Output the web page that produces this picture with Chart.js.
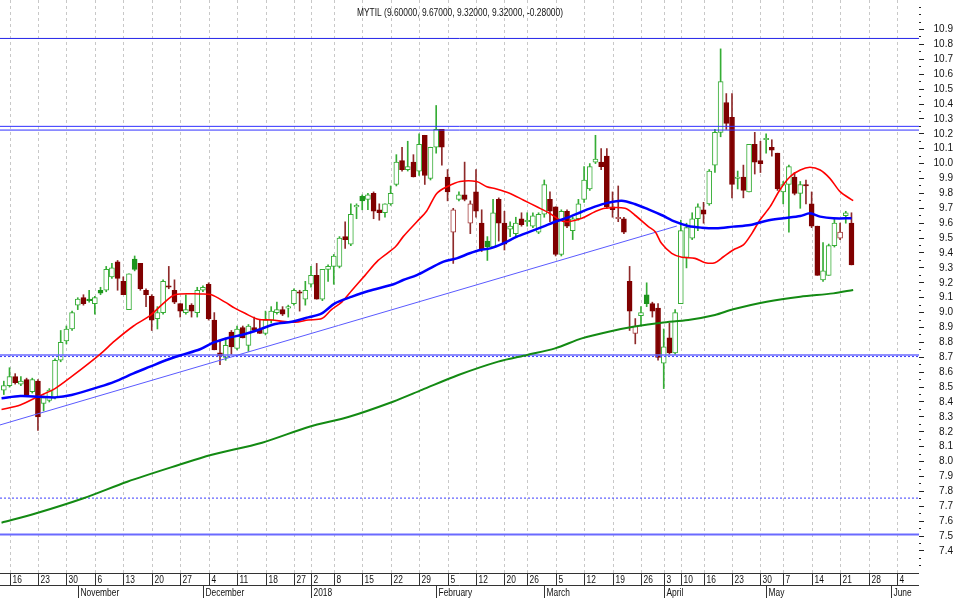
<!DOCTYPE html>
<html>
<head>
<meta charset="utf-8">
<script src="https://cdn.jsdelivr.net/npm/chart.js@4.4.0/dist/chart.umd.min.js"></script>
<style>
  html, body { margin: 0; padding: 0; background: #fff; }
</style>
</head>
<body>
<canvas id="myChart" width="953" height="600"></canvas>
<script>
// trading day index of the first candle (index 0 = 16 Oct 2017)
const firstDay = -1;

const openP = [
  8.48, 8.51, 8.57, 8.52, 8.55, 8.47, 8.54, 8.39, 8.41, 8.43,
  8.68, 8.81, 8.89, 9.05, 9.10, 9.09, 9.06, 9.15, 9.15, 9.24,
  9.34, 9.21, 9.02, 9.36, 9.33, 9.15, 9.11, 8.96, 9.00, 9.18,
  9.15, 9.06, 9.00, 9.05, 9.00, 9.15, 9.19, 8.95, 8.73, 8.70,
  8.87, 8.76, 8.90, 8.78, 8.90, 8.89, 8.86, 8.95, 9.00, 9.02,
  9.03, 9.06, 9.14, 9.09, 9.19, 9.25, 9.09, 9.29, 9.31, 9.31,
  9.51, 9.46, 9.71, 9.78, 9.76, 9.80, 9.69, 9.67, 9.73, 9.86,
  10.02, 9.96, 10.01, 9.95, 10.19, 9.90, 10.11, 10.23, 9.91, 9.54,
  9.76, 9.79, 9.60, 9.81, 9.60, 9.48, 9.44, 9.76, 9.60, 9.56,
  9.53, 9.63, 9.61, 9.58, 9.54, 9.66, 9.76, 9.71, 9.39, 9.68,
  9.55, 9.63, 9.76, 9.83, 10.01, 10.01, 10.05, 9.71, 9.63, 9.63,
  9.21, 8.86, 8.98, 9.12, 9.06, 9.03, 8.66, 8.83, 8.73, 9.06,
  9.37, 9.50, 9.63, 9.69, 9.73, 9.99, 10.21, 10.41, 10.31, 9.90,
  9.91, 9.81, 10.13, 10.02, 10.16, 10.11, 10.07, 9.81, 9.86, 9.91,
  9.80, 9.86, 9.73, 9.58, 9.22, 9.25, 9.45, 9.50, 9.65, 9.60
];
const highP = [
  8.54, 8.63, 8.59, 8.57, 8.56, 8.56, 8.55, 8.44, 8.49, 8.69,
  8.88, 8.91, 9.01, 9.10, 9.12, 9.15, 9.11, 9.17, 9.31, 9.33,
  9.35, 9.24, 9.26, 9.38, 9.33, 9.16, 9.12, 9.04, 9.22, 9.31,
  9.22, 9.06, 9.12, 9.06, 9.17, 9.18, 9.20, 9.00, 8.81, 8.83,
  8.88, 8.91, 8.91, 8.92, 8.97, 8.95, 9.01, 9.04, 9.07, 9.04,
  9.05, 9.16, 9.15, 9.21, 9.31, 9.33, 9.29, 9.32, 9.39, 9.51,
  9.61, 9.73, 9.73, 9.79, 9.80, 9.81, 9.73, 9.73, 9.85, 10.06,
  10.11, 10.15, 10.06, 10.20, 10.19, 10.11, 10.39, 10.23, 9.96, 9.70,
  9.81, 10.01, 9.75, 9.96, 9.69, 9.51, 9.76, 9.77, 9.68, 9.61,
  9.64, 9.67, 9.67, 9.67, 9.67, 9.89, 9.81, 9.71, 9.69, 9.69,
  9.64, 9.76, 9.98, 10.00, 10.19, 10.10, 10.10, 9.81, 9.85, 9.64,
  9.31, 8.96, 9.04, 9.20, 9.07, 9.06, 8.89, 8.93, 9.02, 9.62,
  9.60, 9.67, 9.73, 9.74, 9.96, 10.23, 10.77, 10.47, 10.47, 9.95,
  9.99, 10.13, 10.21, 10.15, 10.20, 10.16, 10.07, 9.88, 9.99, 9.94,
  9.88, 9.89, 9.81, 9.58, 9.47, 9.46, 9.63, 9.60, 9.68, 9.67
];
const lowP = [
  8.45, 8.50, 8.52, 8.51, 8.44, 8.46, 8.21, 8.34, 8.40, 8.42,
  8.67, 8.79, 8.88, 9.02, 9.05, 9.07, 8.99, 9.12, 9.14, 9.23,
  9.15, 9.12, 9.02, 9.28, 9.15, 9.04, 8.88, 8.89, 8.99, 9.16,
  9.06, 8.97, 8.99, 8.97, 8.97, 9.14, 8.95, 8.75, 8.65, 8.68,
  8.72, 8.75, 8.83, 8.74, 8.87, 8.86, 8.85, 8.93, 8.99, 8.98,
  8.97, 9.05, 9.01, 9.05, 9.17, 9.09, 9.08, 9.21, 9.19, 9.30,
  9.43, 9.45, 9.63, 9.69, 9.69, 9.63, 9.62, 9.64, 9.72, 9.85,
  9.95, 9.95, 9.91, 9.92, 9.86, 9.89, 10.07, 9.99, 9.75, 9.33,
  9.75, 9.75, 9.53, 9.64, 9.41, 9.35, 9.44, 9.48, 9.42, 9.51,
  9.51, 9.58, 9.58, 9.57, 9.53, 9.64, 9.61, 9.38, 9.38, 9.57,
  9.49, 9.62, 9.74, 9.82, 10.00, 9.96, 9.70, 9.64, 9.61, 9.53,
  8.88, 8.79, 8.91, 9.04, 8.97, 8.68, 8.49, 8.72, 8.72, 9.06,
  9.30, 9.49, 9.55, 9.60, 9.72, 9.94, 10.18, 10.23, 9.77, 9.83,
  9.77, 9.81, 9.93, 9.94, 10.07, 10.05, 9.82, 9.73, 9.54, 9.79,
  9.70, 9.73, 9.57, 9.25, 9.21, 9.25, 9.44, 9.49, 9.60, 9.32
];
const closeP = [
  8.51, 8.57, 8.53, 8.54, 8.45, 8.55, 8.30, 8.43, 8.48, 8.68,
  8.80, 8.89, 9.00, 9.09, 9.06, 9.08, 9.10, 9.13, 9.29, 9.30,
  9.23, 9.12, 9.26, 9.29, 9.16, 9.12, 8.95, 9.00, 9.21, 9.17,
  9.07, 9.01, 9.02, 9.01, 9.15, 9.17, 8.96, 8.75, 8.71, 8.78,
  8.77, 8.89, 8.83, 8.91, 8.88, 8.86, 8.95, 9.01, 9.02, 8.99,
  9.04, 9.15, 9.13, 9.15, 9.25, 9.09, 9.29, 9.31, 9.38, 9.50,
  9.49, 9.66, 9.72, 9.75, 9.79, 9.68, 9.67, 9.73, 9.80, 10.01,
  9.96, 9.98, 9.91, 10.13, 9.92, 10.11, 10.23, 10.11, 9.81, 9.69,
  9.79, 9.76, 9.73, 9.68, 9.42, 9.44, 9.67, 9.60, 9.46, 9.58,
  9.60, 9.59, 9.62, 9.65, 9.66, 9.86, 9.68, 9.39, 9.68, 9.58,
  9.63, 9.73, 9.89, 9.98, 10.03, 9.98, 9.71, 9.69, 9.64, 9.54,
  9.01, 8.91, 9.00, 9.06, 9.01, 8.70, 8.77, 8.73, 9.00, 9.55,
  9.57, 9.63, 9.71, 9.66, 9.95, 10.21, 10.55, 10.27, 9.86, 9.91,
  9.82, 10.13, 10.01, 10.00, 10.17, 10.09, 9.83, 9.86, 9.98, 9.80,
  9.86, 9.85, 9.58, 9.25, 9.28, 9.45, 9.60, 9.54, 9.67, 9.32
];

// moving averages (x = trading day index)
const redMaX = [-1.4, 1.9, 5.2, 8.0, 10.9, 15.9, 18.5, 21.8, 24.7, 27.0, 29.1, 33.5, 35.5, 37.9, 39.6,
  41.4, 43.7, 46.1, 48.4, 50.2, 52.5, 54.9, 56.6, 58.4, 60.2, 62.5, 64.8, 67.8, 69.2, 71.6,
  73.3, 75.1, 76.9, 79.2, 82.1, 83.9, 85.6, 88.0, 90.3, 92.7, 95.0, 96.8, 98.2, 100.6, 102.9,
  104.7, 108.2, 109.9, 112.3, 113.5, 114.6, 116.4, 118.2, 120.5, 122.3, 124.0, 125.5, 127.2, 129.0, 130.5,
  131.9, 133.7, 135.4, 137.2, 139.0, 140.7, 142.5, 144.2, 146.0, 148.3];
const redMaY = [8.35, 8.38, 8.44, 8.49, 8.57, 8.72, 8.81, 8.91, 8.98, 9.06, 9.12, 9.125, 9.12, 9.07, 9.03,
  8.995, 8.955, 8.95, 8.94, 8.935, 8.95, 8.96, 9.02, 9.07, 9.15, 9.25, 9.35, 9.44, 9.51, 9.61,
  9.68, 9.80, 9.845, 9.88, 9.88, 9.845, 9.83, 9.80, 9.756, 9.71, 9.665, 9.62, 9.61, 9.633, 9.677,
  9.70, 9.70, 9.655, 9.577, 9.543, 9.465, 9.398, 9.371, 9.364, 9.335, 9.335, 9.375, 9.42, 9.454, 9.532,
  9.621, 9.711, 9.823, 9.912, 9.957, 9.975, 9.957, 9.901, 9.812, 9.751];

const blueMaX = [-1.4, 1.9, 5.2, 8.0, 10.9, 15.9, 18.5, 21.8, 24.7, 27.6, 30.3, 33.5, 35.8, 38.4, 40.8,
  43.7, 46.7, 49.6, 52.5, 54.9, 57.2, 60.2, 63.1, 67.5, 69.2, 71.6, 73.9, 76.3, 78.6, 80.9,
  82.7, 84.5, 86.8, 89.2, 91.5, 93.8, 96.2, 98.2, 100.6, 102.9, 105.3, 107.6, 109.9, 112.3, 114.6,
  117.0, 119.3, 121.7, 124.2, 127.2, 130.2, 133.1, 136.0, 139.0, 140.7, 142.5, 144.8, 148.0];
const blueMaY = [8.425, 8.44, 8.436, 8.431, 8.447, 8.503, 8.537, 8.592, 8.637, 8.682, 8.716, 8.754, 8.798, 8.83, 8.85,
  8.883, 8.924, 8.939, 8.968, 8.995, 9.062, 9.107, 9.145, 9.19, 9.219, 9.252, 9.297, 9.342, 9.364, 9.398,
  9.42, 9.431, 9.465, 9.51, 9.543, 9.577, 9.613, 9.639, 9.677, 9.711, 9.738, 9.751, 9.729, 9.693, 9.655,
  9.61, 9.581, 9.57, 9.566, 9.577, 9.588, 9.617, 9.633, 9.648, 9.666, 9.644, 9.633, 9.633];

const greenMaX = [-1.4, 4.7, 13.0, 20.7, 29.7, 35.4, 44.4, 52.7, 59.7, 67.4, 72.5, 78.9, 85.9, 91.0, 95.9,
  100.6, 105.3, 109.9, 114.6, 119.3, 124.0, 127.2, 133.1, 139.0, 144.8, 148.3];
const greenMaY = [7.59, 7.653, 7.754, 7.865, 7.977, 8.044, 8.127, 8.234, 8.301, 8.402, 8.481, 8.581, 8.671, 8.716, 8.76,
  8.827, 8.872, 8.906, 8.932, 8.95, 8.984, 9.022, 9.073, 9.107, 9.129, 9.152];

// hand drawn lines
const trendX = [-1.67, 117.3];
const trendY = [8.246, 9.581];
const levels = [10.84, 10.25, 10.225, 8.715, 7.51];
const dottedLevels = [8.705, 7.755];

// x axis labels
const weekTickIdx = [0, 5, 10, 15, 20, 25, 30, 35, 40, 45, 50, 53, 57, 62, 67, 72, 77, 82, 87, 91,
  96, 101, 106, 111, 115, 118, 122, 127, 132, 136, 141, 146, 151, 156];
const weekTickLbl = ['16', '23', '30', '6', '13', '20', '27', '4', '11', '18', '27', '2', '8', '15', '22', '29', '5', '12', '20', '26',
  '5', '12', '19', '26', '3', '10', '16', '23', '30', '7', '14', '21', '28', '4'];
const monthIdx = [12, 34, 53, 75, 94, 115, 133, 155];
const monthLbl = ['November', 'December', '2018', 'February', 'March', 'April', 'May', 'June'];

const X_MIN = -1.67, X_MAX = 159.87;
const FONT = "'Liberation Sans', Arial, sans-serif";
const GREEN = '#35ad35';
const GREEN_FILL = '#1d951d';
const RED = '#800000';
const RED_WICK = '#8e2a2a';
const levelColor = ['#2424e8', '#3030ff', '#3030ff', '#6a6aff', '#6a6aff'];
const levelWidth = [1, 1, 1, 1.5, 2];

function isUp(k) {
  return k === 0 || closeP[k] >= closeP[k - 1];
}

function xy(xs, ys) {
  return xs.map((x, k) => ({ x: x, y: ys[k] }));
}

var wickData = [], wickColor = [], bodyData = [], bodyFill = [], bodyBorder = [];
for (var k = 0; k < closeP.length; k++) {
  var up = isUp(k);
  var down = closeP[k] < openP[k];
  wickData.push({ x: firstDay + k, y: [lowP[k], highP[k]] });
  wickColor.push(up ? GREEN : RED_WICK);
  bodyData.push({ x: firstDay + k, y: [openP[k], closeP[k]] });
  bodyFill.push(down ? (up ? GREEN_FILL : RED) : '#ffffff');
  bodyBorder.push(up ? (down ? GREEN_FILL : GREEN) : (down ? RED : '#a33a3a'));
}

var lineDefaults = { type: 'line', pointRadius: 0, fill: false, order: 0 };

var datasets = [
  { type: 'bar', data: wickData, backgroundColor: wickColor, barThickness: 1, grouped: false, order: 3, borderWidth: 0 },
  { type: 'bar', data: bodyData, backgroundColor: bodyFill, borderColor: bodyBorder, borderWidth: 1,
    borderSkipped: false, barThickness: 5, grouped: false, minBarLength: 1, order: 2 },
  Object.assign({}, lineDefaults, { data: xy(greenMaX, greenMaY), borderColor: '#138a13', borderWidth: 2, tension: 0.3 }),
  Object.assign({}, lineDefaults, { data: xy(blueMaX, blueMaY), borderColor: '#0000ff', borderWidth: 2.5, tension: 0.3 }),
  Object.assign({}, lineDefaults, { data: xy(redMaX, redMaY), borderColor: '#ff0000', borderWidth: 1.6, tension: 0.3 }),
  Object.assign({}, lineDefaults, { data: xy(trendX, trendY), borderColor: '#5a5aff', borderWidth: 1 })
];
levels.forEach(function (v, k) {
  datasets.push(Object.assign({}, lineDefaults, {
    data: [{ x: X_MIN, y: v }, { x: X_MAX, y: v }], borderColor: levelColor[k], borderWidth: levelWidth[k]
  }));
});
dottedLevels.forEach(function (v) {
  datasets.push(Object.assign({}, lineDefaults, {
    data: [{ x: X_MIN, y: v }, { x: X_MAX, y: v }], borderColor: '#3a3aff', borderWidth: 1, borderDash: [2, 2]
  }));
});

function isMajor(v) {
  var t = Math.round(v * 100);
  return t % 10 === 0 && t >= 740 && t <= 1090;
}

// narrow looking text, like the original charting program
function narrowText(ctx, text, x, y, align) {
  ctx.save();
  ctx.translate(x, y);
  ctx.scale(0.84, 1);
  ctx.textAlign = align;
  ctx.fillText(text, 0, 0);
  ctx.restore();
}

// gridlines, date rows and the title
const axisRows = {
  id: 'axisRows',
  beforeDatasetsDraw(chart) {
    const ctx = chart.ctx, area = chart.chartArea, xs = chart.scales.x;
    ctx.save();
    ctx.strokeStyle = '#c8c8c8';
    ctx.lineWidth = 1;
    ctx.setLineDash([3, 3]);
    weekTickIdx.forEach(function (i) {
      var px = Math.round(xs.getPixelForValue(i)) + 0.5;
      ctx.beginPath();
      ctx.moveTo(px, area.top);
      ctx.lineTo(px, area.bottom);
      ctx.stroke();
    });
    ctx.restore();
  },
  afterDraw(chart) {
    const ctx = chart.ctx, area = chart.chartArea, xs = chart.scales.x;
    const y0 = area.bottom;
    ctx.save();
    ctx.strokeStyle = '#333';
    ctx.lineWidth = 1;
    ctx.beginPath();
    ctx.moveTo(area.left, y0 + 0.5);
    ctx.lineTo(area.right, y0 + 0.5);
    ctx.moveTo(area.left, y0 + 12.5);
    ctx.lineTo(area.right, y0 + 12.5);
    ctx.stroke();
    ctx.fillStyle = '#111';
    ctx.font = '10px ' + FONT;
    ctx.textBaseline = 'middle';
    weekTickIdx.forEach(function (i, k) {
      var px = Math.round(xs.getPixelForValue(i)) + 0.5;
      ctx.beginPath();
      ctx.moveTo(px, y0);
      ctx.lineTo(px, y0 + 12);
      ctx.stroke();
      narrowText(ctx, weekTickLbl[k], px + 2, y0 + 7, 'left');
    });
    monthIdx.forEach(function (i, k) {
      var px = Math.round(xs.getPixelForValue(i)) + 0.5;
      ctx.beginPath();
      ctx.moveTo(px, y0 + 13);
      ctx.lineTo(px, y0 + 25);
      ctx.stroke();
      narrowText(ctx, monthLbl[k], px + 2, y0 + 20, 'left');
    });
    var n = closeP.length - 1;
    var vals = [openP[n], highP[n], lowP[n], closeP[n], closeP[n] - openP[n]];
    narrowText(ctx, 'MYTIL (' + vals.map(v => v.toFixed(5)).join(', ') + ')', 460, 13, 'center');
    ctx.restore();
  }
};

const ctx = document.getElementById('myChart').getContext('2d');
const myChart = new Chart(ctx, {
  type: 'line',
  data: { datasets: datasets },
  plugins: [axisRows],
  options: {
    responsive: false,
    animation: false,
    layout: { padding: { left: 0, top: 0, right: 0, bottom: 27 } },
    plugins: { legend: { display: false }, tooltip: { enabled: false } },
    scales: {
      x: { type: 'linear', display: false, offset: false, min: X_MIN, max: X_MAX },
      y: {
        type: 'linear',
        position: 'right',
        min: 7.2523,
        max: 11.098,
        border: { display: false },
        grid: {
          drawOnChartArea: false,
          drawTicks: true,
          tickLength: 5,
          tickColor: '#222',
          tickBorderDash: function (c) { return c.tick && isMajor(c.tick.value) ? [] : [2, 20]; }
        },
        ticks: {
          autoSkip: false,
          padding: 2,
          crossAlign: 'far',
          color: '#111',
          font: { family: FONT, size: 10 },
          callback: function (v) { return isMajor(v) ? v.toFixed(1) : ''; }
        },
        afterBuildTicks: function (s) {
          var t = [];
          for (var m = 146; m <= 221; m++) t.push({ value: m * 0.05 });
          s.ticks = t;
        },
        afterFit: function (s) {
          s.width = 34;
          s.paddingTop = 0;
          s.paddingBottom = 0;
        }
      }
    }
  }
});
</script>
</body>
</html>
